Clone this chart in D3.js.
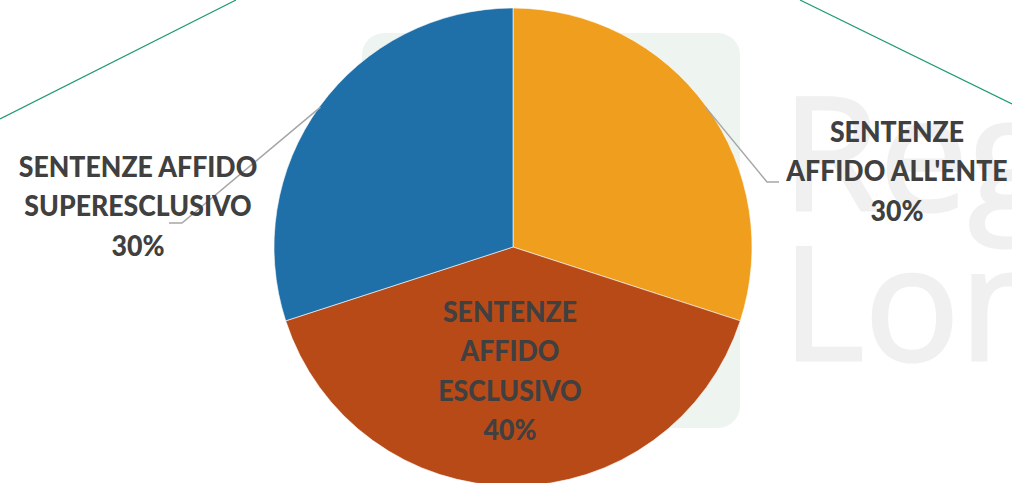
<!DOCTYPE html>
<html>
<head>
<meta charset="utf-8">
<script src="https://cdn.jsdelivr.net/npm/d3@7"></script>
<style>
  html, body { margin: 0; padding: 0; background: #fff; }
  svg { display: block; }
  .lbl { font-family: Lato, "Open Sans", sans-serif; font-weight: 900; fill: #404040; }
  .wm { font-family: "Open Sans", sans-serif; font-weight: 400; fill: #f0f0f0; stroke: #f0f0f0; stroke-width: 3; }
</style>
</head>
<body>
<div id="chart"></div>
<script>
// data
var categories = ["SENTENZE AFFIDO ALL'ENTE", "SENTENZE AFFIDO ESCLUSIVO", "SENTENZE AFFIDO SUPERESCLUSIVO"];
var values = [30, 40, 30];
var labelLines = [
  ["SENTENZE", "AFFIDO ALL'ENTE", "30%"],
  ["SENTENZE", "AFFIDO", "ESCLUSIVO", "40%"],
  ["SENTENZE AFFIDO", "SUPERESCLUSIVO", "30%"]
];
var colors = ["#f09e1d", "#b84a18", "#1f6fa8"];

const WIDTH = 1012;
const HEIGHT = 483;
const CX = 513;
const CY = 247;
const RADIUS = 239;

var translate = function(x, y){
  return "translate(" + x + "," + y + ")";
};

var svg = d3.select('#chart').append('svg')
  .attr('width', WIDTH)
  .attr('height', HEIGHT);

// background decorations (watermark + green lines)
svg.append('rect')
  .attr('x', 362).attr('y', 33)
  .attr('width', 378).attr('height', 395)
  .attr('rx', 22)
  .attr('fill', '#eef5f0');

svg.append('text')
  .classed('wm', true)
  .attr('x', 782).attr('y', 210)
  .attr('font-size', 158)
  .text('Regione');

svg.append('text')
  .classed('wm', true)
  .attr('x', 782).attr('y', 360)
  .attr('font-size', 158)
  .text('Lombardia');

svg.append('line')
  .attr('x1', 0).attr('y1', 119).attr('x2', 236).attr('y2', 0)
  .attr('stroke', '#1f9a72').attr('stroke-width', 1.2);

svg.append('line')
  .attr('x1', 800).attr('y1', 0).attr('x2', 1012).attr('y2', 104)
  .attr('stroke', '#1f9a72').attr('stroke-width', 1.2);

// pie
var pie = d3.pie().sort(null).value(function(d){ return d; });
var arcs = pie(values);

var arc = d3.arc().innerRadius(0).outerRadius(RADIUS);
var outerArc = d3.arc().innerRadius(RADIUS - 1).outerRadius(RADIUS - 1);

var g = svg.append('g').attr('transform', translate(CX, CY));

g.selectAll('path.slice')
  .data(arcs)
  .enter().append('path')
  .classed('slice', true)
  .attr('d', arc)
  .attr('fill', function(d, i){ return colors[i]; })
  .attr('stroke', '#fff')
  .attr('stroke-width', 0.6);

// label placement (relative to pie centre)
var labelPos = [
  { x: 384, y: -105, knee: [254, -65], end: [266, -65] },
  { x: -3, y: 75 },
  { x: -375, y: -70, knee: [-331, -24], end: [-344, -24] }
];

var LINE_H = 39.5;

// leader lines
arcs.forEach(function(d, i){
  var p = labelPos[i];
  if (!p.knee) return;
  var start = outerArc.centroid(d);
  g.append('polyline')
    .attr('points', [start, p.knee, p.end].map(function(q){ return q.join(','); }).join(' '))
    .attr('fill', 'none')
    .attr('stroke', '#a6a6a6')
    .attr('stroke-width', 1.5);
});

// labels (slightly condensed to mimic the original narrow bold face)
arcs.forEach(function(d, i){
  var p = labelPos[i];
  var t = g.append('g')
    .attr('transform', translate(p.x, p.y) + ' scale(0.92,1)')
    .append('text')
    .classed('lbl', true)
    .attr('text-anchor', 'middle')
    .attr('font-size', 29);
  labelLines[i].forEach(function(s, j){
    t.append('tspan')
      .attr('x', 0)
      .attr('y', j * LINE_H)
      .text(s);
  });
});
</script>
</body>
</html>
